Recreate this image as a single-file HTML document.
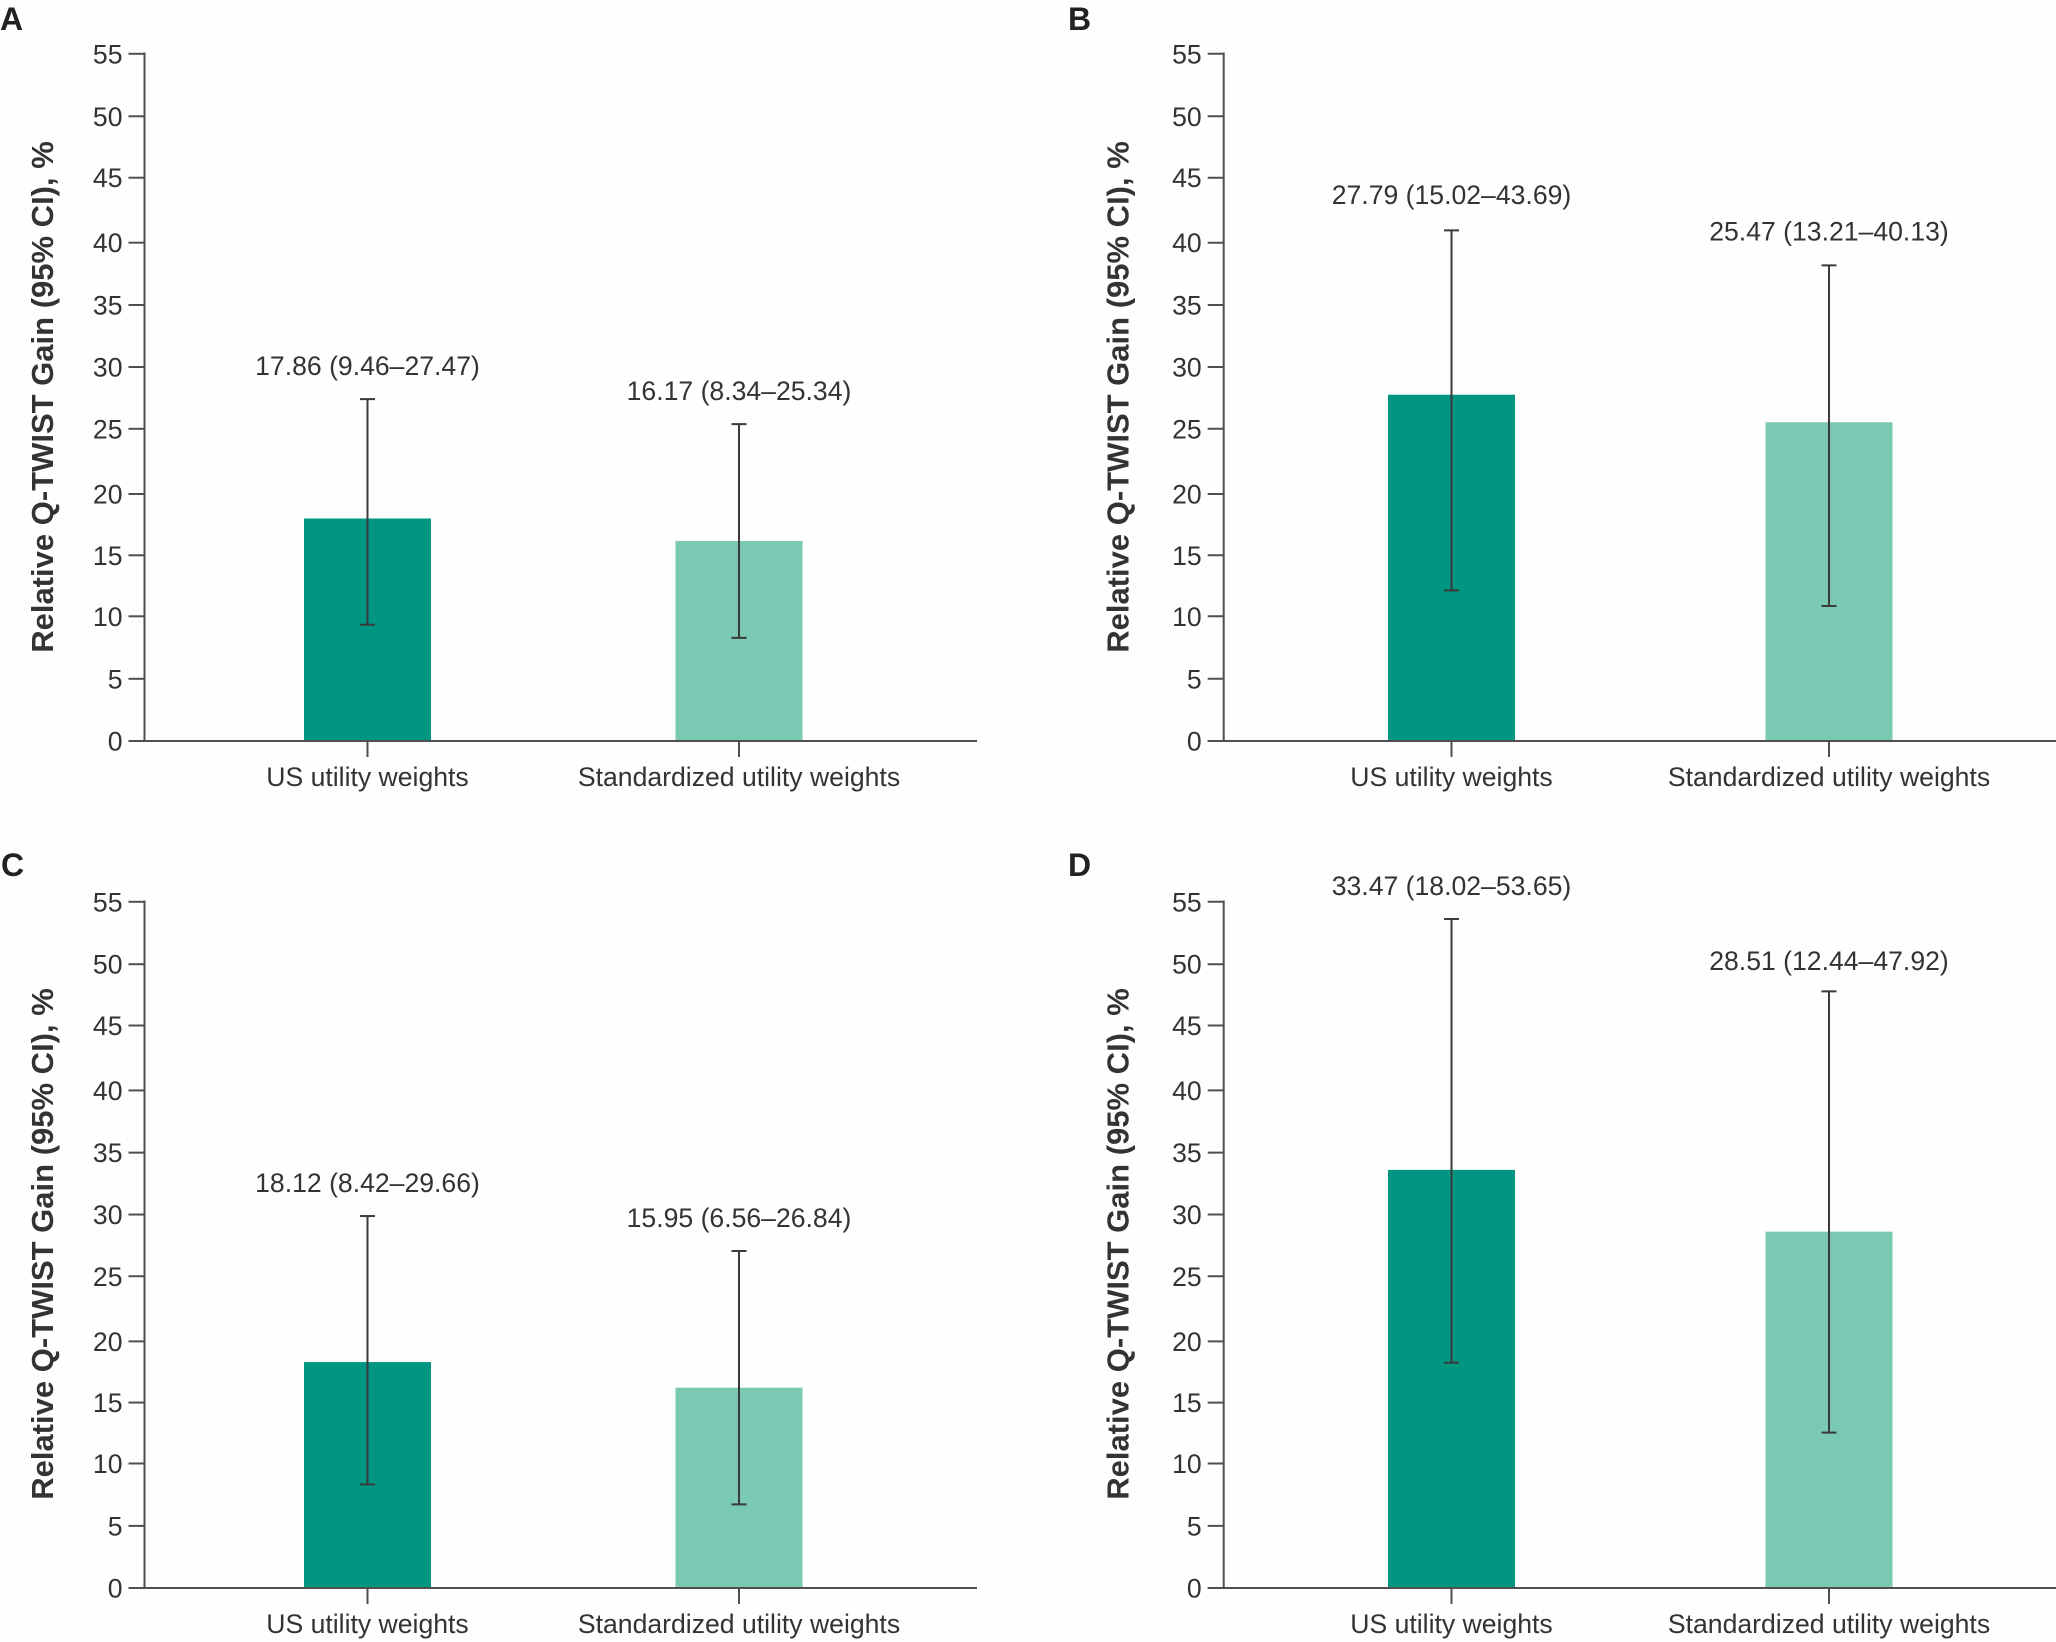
<!DOCTYPE html>
<html lang="en">
<head>
<meta charset="utf-8">
<title>Relative Q-TWIST Gain panels</title>
<style>
html,body{margin:0;padding:0;background:#fefefe;}
svg{display:block;}
text{font-family:"Liberation Sans",Arial,sans-serif;fill:#333;}
</style>
</head>
<body>
<svg id="figure" xmlns="http://www.w3.org/2000/svg" width="2056" height="1642" viewBox="0 0 2056 1642"></svg>
<script>
const panelLetters = ['A', 'B', 'C', 'D'];
const categories = ['US utility weights', 'Standardized utility weights'];
const yTicks = [0, 5, 10, 15, 20, 25, 30, 35, 40, 45, 50, 55];
const yAxisTitle = 'Relative Q-TWIST Gain (95% CI), %';

const usBars = [17.8, 27.7, 18.1, 33.5];
const usLow = [9.3, 12.05, 8.3, 18.05];
const usHigh = [27.35, 40.85, 29.8, 53.6];
const usLabels = ['17.86 (9.46–27.47)', '27.79 (15.02–43.69)', '18.12 (8.42–29.66)', '33.47 (18.02–53.65)'];

const stdBars = [16.0, 25.5, 16.05, 28.55];
const stdLow = [8.25, 10.8, 6.7, 12.45];
const stdHigh = [25.35, 38.05, 27.0, 47.8];
const stdLabels = ['16.17 (8.34–25.34)', '25.47 (13.21–40.13)', '15.95 (6.56–26.84)', '28.51 (12.44–47.92)'];

const SVG_NS = 'http://www.w3.org/2000/svg';
const AXIS = '#4f4f4f', INK = '#3a3a3a', DARK = '#009682', LIGHT = '#7ac9b3';
const FS = 26.6;
const svg = document.getElementById('figure');

const layouts = [
  {left: 144.5, right: 977, top: 53.5, base: 741, c1: 367.5, c2: 739, letterX: 0, letterY: 30, titleX: 53, gap1: 24, gap2: 24},
  {left: 1223.7, right: 2056, top: 53.5, base: 741, c1: 1451.5, c2: 1829, letterX: 1068, letterY: 30, titleX: 1128.5, gap1: 26.5, gap2: 25},
  {left: 144.5, right: 977, top: 901.5, base: 1588, c1: 367.5, c2: 739, letterX: 1, letterY: 876, titleX: 53, gap1: 24, gap2: 24},
  {left: 1223.7, right: 2056, top: 901.5, base: 1588, c1: 1451.5, c2: 1829, letterX: 1068, letterY: 876, titleX: 1128.5, gap1: 24, gap2: 21.4}
];
const yMax = 55;
const barWidth = 127;

function make(tag, attrs, parent, content) {
  const el = document.createElementNS(SVG_NS, tag);
  for (const k in attrs) el.setAttribute(k, attrs[k]);
  if (content !== undefined) el.textContent = content;
  parent.appendChild(el);
  return el;
}
function yScale(layout, v) {
  return layout.base - (v / yMax) * (layout.base - layout.top);
}
/* The source artwork's tick marks sit slightly off a perfectly even spacing. */
function tickShift(t) {
  if (t === 20) return 3;
  if (t === 15) return 1.8;
  if (t === 35) return 1.5;
  if (t === 40) return 1.7;
  if (t === 30) return 1;
  if (t === 45) return -0.8;
  return 0.3;
}
function line(parent, x1, y1, x2, y2, stroke, width) {
  return make('line', {x1: x1, y1: y1, x2: x2, y2: y2, stroke: stroke, 'stroke-width': width}, parent);
}

function drawBar(g, L, cx, value, low, high, color, label, key, gap) {
  const yTop = yScale(L, value);
  const bar = make('rect', {x: cx - barWidth / 2, y: yTop, width: barWidth, height: L.base - yTop, fill: color}, g);
  
  

  const yLow = yScale(L, low), yHigh = yScale(L, high);
  const whisker = make('g', {}, g);
  
  
  line(whisker, cx, yHigh, cx, yLow, INK, 2);
  line(whisker, cx - 7.5, yHigh, cx + 7.5, yHigh, INK, 2);
  line(whisker, cx - 7.5, yLow, cx + 7.5, yLow, INK, 2);

  const text = make('text', {x: cx, y: yHigh - gap, 'text-anchor': 'middle', 'font-size': FS}, g, label);
  
  
}

panelLetters.forEach(function (letter, i) {
  const L = layouts[i];
  const id = letter.toLowerCase();
  const g = make('g', {}, svg);
  
  

  const heading = make('text', {x: L.letterX, y: L.letterY, 'font-size': 32, 'font-weight': 'bold', style: 'fill:#222'}, g, letter);
  
  

  const title = make('text', {
    x: L.titleX, y: L.base - 344, 'font-size': 31, 'font-weight': 'bold', 'text-anchor': 'middle',
    transform: 'rotate(-90 ' + L.titleX + ' ' + (L.base - 344) + ')'
  }, g, yAxisTitle);
  
  

  drawBar(g, L, L.c1, usBars[i], usLow[i], usHigh[i], DARK, usLabels[i], id + '-us', L.gap1);
  drawBar(g, L, L.c2, stdBars[i], stdLow[i], stdHigh[i], LIGHT, stdLabels[i], id + '-standardized', L.gap2);

  const axisY = make('line', {x1: L.left, y1: L.top - 1, x2: L.left, y2: L.base, stroke: AXIS, 'stroke-width': 2}, g);
  
  

  const axisX = make('line', {x1: L.left - 16, y1: L.base, x2: L.right, y2: L.base, stroke: AXIS, 'stroke-width': 2}, g);
  
  

  yTicks.forEach(function (t) {
    const y = yScale(L, t) + (t === 0 ? 0 : tickShift(t));
    const mark = line(g, L.left - 16, y, L.left, y, AXIS, 2);
    
    
    const tickText = make('text', {x: L.left - 22, y: y + 9.5, 'text-anchor': 'end', 'font-size': FS}, g, String(t));
    
    
  });

  [L.c1, L.c2].forEach(function (cx, c) {
    const mark = line(g, cx, L.base, cx, L.base + 16, AXIS, 2);
    
    
    const catText = make('text', {x: cx, y: L.base + 45, 'text-anchor': 'middle', 'font-size': FS}, g, categories[c]);
    
    
  });
});
</script>
</body>
</html>
